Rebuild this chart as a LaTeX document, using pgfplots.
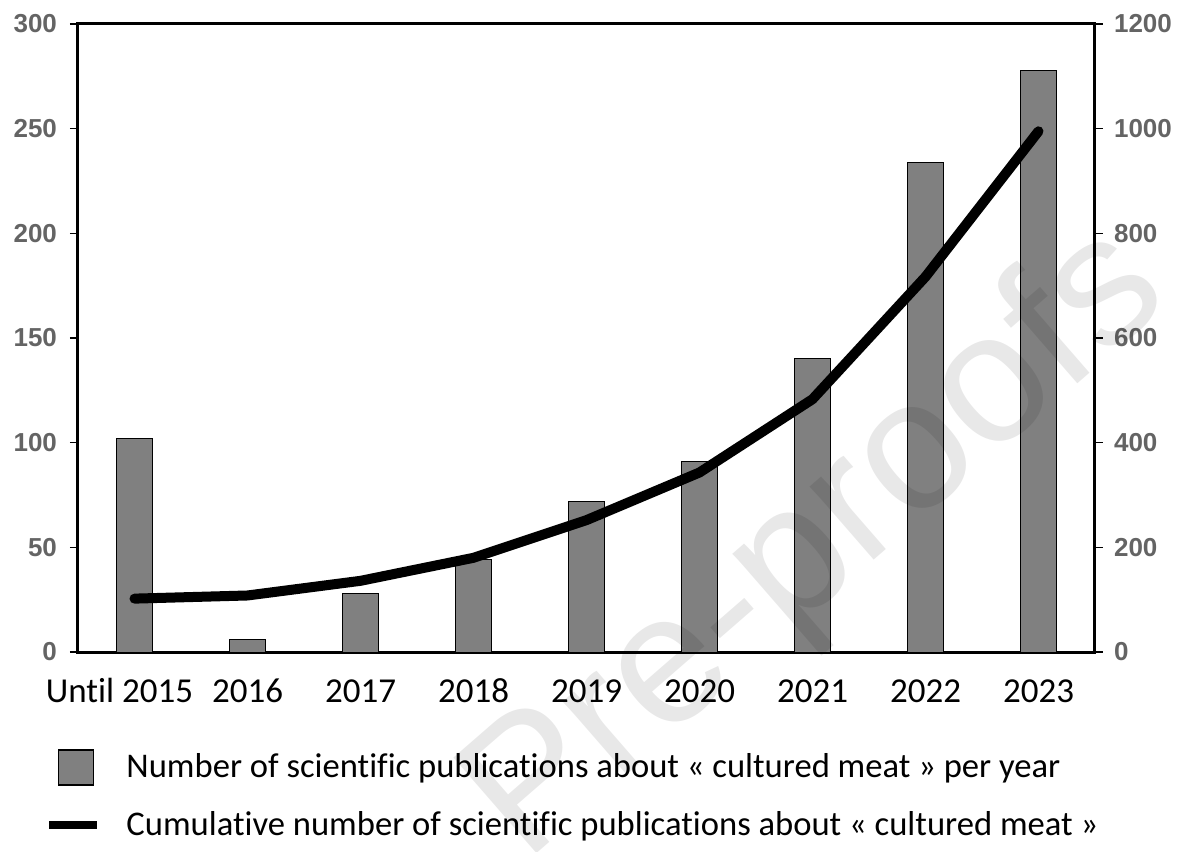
\documentclass[border=0pt]{standalone}
\usepackage{pgfplots}
\pgfplotsset{compat=1.18}
\usepackage{fontspec}
\setmainfont{Carlito}[Ligatures=NoCommon]
\newfontfamily\arialfont{Liberation Sans}
\definecolor{barc}{HTML}{808080}
\definecolor{tickc}{HTML}{646464}
\begin{document}
\begin{tikzpicture}
\path[use as bounding box] (-39pt,-99.5pt) rectangle (554.5pt,326pt);
\begin{axis}[
  at={(0,0)}, anchor=south west,
  scale only axis, width=508.5pt, height=314pt,
  xmin=-0.5, xmax=8.5, ymin=0, ymax=300,
  xtick={0,...,8},
  xticklabels={Until 2015\kern15pt,2016,2017,2018,2019,2020,2021,2022,2023},
  ytick={0,50,...,300}, ytick pos=left,
  axis line style={line width=1.5pt},
  tick align=outside, major tick length=4pt,
  ytick style={line width=0.8pt, black},
  xtick style={draw=none},
  /pgf/number format/assume math mode=true,
  yticklabel style={font=\arialfont\bfseries\fontsize{13}{15}\selectfont, text=tickc, xshift=-3pt},
  xticklabel style={font=\fontsize{17.5}{20}\selectfont, anchor=north, text height=12pt, text depth=0pt, yshift=-5.5pt},
]
\addplot[ybar, bar width=18pt, fill=barc, draw=black, line width=0.5pt] coordinates {
 (0,102) (1,6) (2,28) (3,44) (4,72) (5,91) (6,140) (7,234) (8,278)};
\end{axis}
\begin{axis}[
  at={(0,0)}, anchor=south west,
  scale only axis, width=508.5pt, height=314pt,
  xmin=-0.5, xmax=8.5, ymin=0, ymax=1200,
  axis x line=none, axis y line*=right,
  ytick={0,200,...,1200},
  axis line style={line width=1.5pt},
  tick align=outside, major tick length=4pt,
  ytick style={line width=0.8pt, black},
  /pgf/number format/assume math mode=true,
  /pgf/number format/1000 sep={},
  yticklabel style={font=\arialfont\bfseries\fontsize{13}{15}\selectfont, text=tickc, xshift=2pt},
  legend style={at={(-0.0324,-0.154)}, anchor=north west, draw=none, fill=none,
    font=\fontsize{17.3}{20}\selectfont, row sep=11pt, inner sep=0pt,
    nodes={inner sep=2pt}},
  legend cell align=left,
]
\addlegendimage{legend image code/.code={\draw[fill=barc, draw=black, line width=0.75pt] (4.5pt,-8.75pt) rectangle (22pt,8.75pt); \path[draw=none] (0pt,0pt) -- (36.5pt,0pt);}}
\addlegendentry{Number of scientific publications about « cultured meat » per year}
\addplot[black, line width=5pt, line cap=round, line join=round,
  legend image code/.code={\draw[black, line width=4pt, line cap=butt] (0pt,0pt) -- (24pt,0pt); \path[draw=none] (36.5pt,0pt);}]
 coordinates {(0,102) (1,108) (2,136) (3,180) (4,252) (5,343) (6,483) (7,717) (8,995)};
\addlegendentry{Cumulative number of scientific publications about « cultured meat »}
\end{axis}
\node[rotate=41, text=black, text opacity=0.09, font=\arialfont\fontsize{92}{100}\selectfont] at (370pt,53pt) {Pre-proofs};
\end{tikzpicture}
\end{document}
